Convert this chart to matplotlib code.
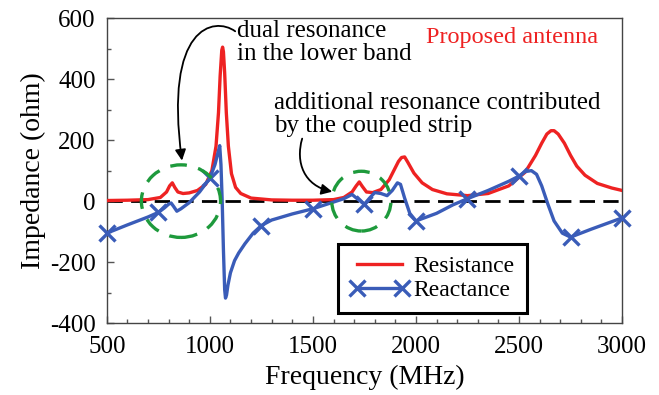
import matplotlib
matplotlib.use("Agg")
import matplotlib.pyplot as plt
from matplotlib.patches import Ellipse, FancyArrowPatch
from matplotlib.path import Path
from matplotlib.ticker import MultipleLocator

plt.rcParams['font.family'] = ['Liberation Serif', 'DejaVu Serif']

# Resistance (red) curve
res_freq = [500, 600, 700, 760, 790, 805, 818, 830, 845, 870, 900, 940, 980, 1010, 1030,
            1042, 1050, 1058, 1062, 1066, 1072, 1080, 1090, 1105, 1125, 1150, 1200, 1300,
            1400, 1500, 1600, 1650, 1690, 1710, 1725, 1740, 1760, 1790, 1830, 1870, 1900,
            1915, 1930, 1945, 1960, 1990, 2030, 2080, 2150, 2250, 2350, 2450, 2530, 2580,
            2610, 2635, 2655, 2670, 2690, 2720, 2750, 2780, 2820, 2880, 2950, 3000]
res_val = [2, 3, 5, 12, 30, 50, 60, 45, 30, 25, 27, 35, 55, 100, 180,
           290, 410, 495, 505, 490, 420, 290, 180, 90, 45, 25, 10, 4,
           3, 3, 5, 12, 30, 50, 63, 48, 30, 28, 38, 70, 110,
           130, 143, 145, 128, 92, 60, 38, 24, 18, 25, 50, 95, 150,
           190, 220, 231, 231, 220, 190, 150, 115, 85, 58, 43, 35]

# Reactance (blue) curve
rea_freq = [500, 600, 700, 750, 780, 800, 812, 825, 840, 860, 900, 950, 1000, 1025, 1040,
            1048, 1054, 1060, 1066, 1072, 1076, 1081, 1088, 1100, 1120, 1140, 1170, 1210,
            1250, 1300, 1400, 1500, 1600, 1650, 1690, 1720, 1750, 1775, 1800, 1830, 1860,
            1885, 1910, 1925, 1945, 1970, 2000, 2100, 2180, 2250, 2350, 2450, 2500, 2530,
            2560, 2585, 2610, 2640, 2670, 2710, 2750, 2850, 3000]
rea_val = [-105, -78, -52, -37, -22, -10, -6, -18, -33, -25, -5, 30, 75, 120, 160,
           182, 120, 0, -160, -290, -318, -308, -275, -235, -195, -170, -140, -105,
           -80, -62, -42, -25, -3, 8, 22, 5, -10, 10, 28, 25, 18,
           35, 60, 55, 10, -40, -65, -40, -12, 8, 35, 65, 82, 97,
           100, 88, 50, -10, -65, -105, -118, -92, -55]
marker_freq = [500, 750, 1000, 1250, 1500, 1750, 2000, 2250, 2500, 2750, 3000]

x_ticks = [500, 1000, 1500, 2000, 2500, 3000]
y_ticks = [-400, -200, 0, 200, 400, 600]

RED = '#ee2222'
BLUE = '#3a5cb8'
GREEN = '#1e9a3c'

fig = plt.figure(figsize=(6.59, 3.95), dpi=100)
ax = fig.add_axes([0.162, 0.182, 0.782, 0.772])

ax.axhline(0, color='black', lw=2.0, dashes=(5.5, 3), zorder=1)
ax.plot(res_freq, res_val, color=RED, lw=2.4, label='Resistance', zorder=3)
mk_idx = [i for i, f in enumerate(rea_freq) if f in marker_freq]
ax.plot(rea_freq, rea_val, color=BLUE, lw=2.4, marker='x', markersize=11,
        markeredgewidth=2.4, markevery=mk_idx, label='Reactance', zorder=4, clip_on=False)

# Ellipses highlighting resonances
ax.add_patch(Ellipse((860, 0), 384, 238, fill=False, edgecolor=GREEN, lw=2.4,
                     linestyle=(0, (5, 3.5)), zorder=5))
ax.add_patch(Ellipse((1735, 0), 287, 196, fill=False, edgecolor=GREEN, lw=2.4,
                     linestyle=(0, (5, 3.5)), zorder=5))

ax.set_xlim(500, 3000)
ax.set_ylim(-400, 600)
ax.set_xticks(x_ticks)
ax.set_yticks(y_ticks)
ax.xaxis.set_minor_locator(MultipleLocator(100))
ax.yaxis.set_minor_locator(MultipleLocator(100))
ax.tick_params(which='both', direction='in', top=False, right=False, labelsize=18,
               color='#555555')
ax.tick_params(which='major', length=5, width=1)
ax.tick_params(which='minor', length=3, width=1)
ax.tick_params(axis='x', which='major', pad=9)
ax.tick_params(axis='y', which='major', pad=8)
ax.set_yticklabels([str(v) for v in y_ticks])
for s in ax.spines.values():
    s.set_color('#444444')
    s.set_linewidth(1.0)

ax.set_xlabel('Frequency (MHz)', fontsize=20, labelpad=5)
ax.set_ylabel('Impedance (ohm)', fontsize=20, labelpad=3)

# Texts
ax.text(1132, 520, 'dual resonance\nin the lower band', fontsize=18, ha='left',
        va='center', linespacing=1.05)
ax.text(1312, 285, 'additional resonance contributed\nby the coupled strip', fontsize=18,
        ha='left', va='center', linespacing=1.05)
ax.text(2051, 535, 'Proposed antenna', fontsize=17.5, color=RED, ha='left', va='center')

# Curved arrows
p1 = Path([(1123, 557), (1020, 607), (777, 574), (865, 133)],
          [Path.MOVETO, Path.CURVE4, Path.CURVE4, Path.CURVE4])
ax.add_patch(FancyArrowPatch(path=p1, arrowstyle='-|>', mutation_scale=16, color='black',
                             lw=1.3, clip_on=False, zorder=6))
p2 = Path([(1448, 205), (1414, 126), (1458, 51), (1594, 31)],
          [Path.MOVETO, Path.CURVE4, Path.CURVE4, Path.CURVE4])
ax.add_patch(FancyArrowPatch(path=p2, arrowstyle='-|>', mutation_scale=16, color='black',
                             lw=1.3, clip_on=False, zorder=6))

leg = ax.legend(loc='lower left', bbox_to_anchor=(0.449, 0.033), borderaxespad=0,
                fontsize=17, fancybox=False, framealpha=1, edgecolor='black',
                handlelength=2.5, labelspacing=0.1, borderpad=0.5, handletextpad=0.2,
                numpoints=2)
leg.get_frame().set_linewidth(2.2)
leg.set_zorder(10)

fig.savefig('out.png', dpi=100)
